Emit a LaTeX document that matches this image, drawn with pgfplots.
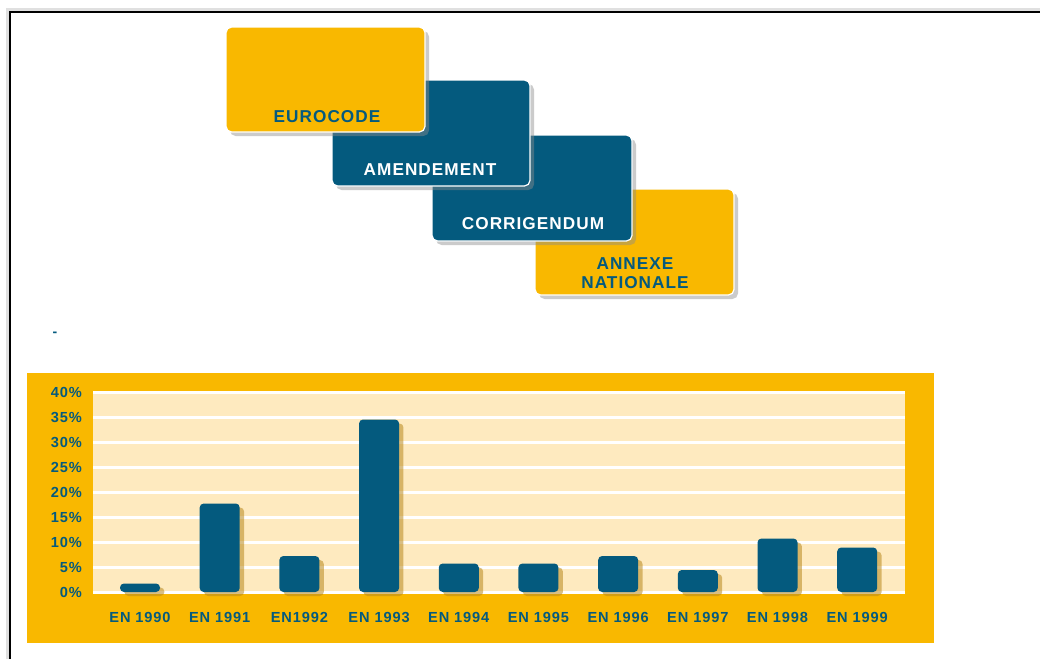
\documentclass[border=0pt]{standalone}
\usepackage{pgfplots}
\pgfplotsset{compat=1.18}
\usepackage{fontspec}
\setmainfont{Liberation Sans}
\newfontfamily\lblfont[LetterSpace=6]{Liberation Sans}
\definecolor{ecyellow}{HTML}{F9B800}
\definecolor{ecblue}{HTML}{045A7E}
\definecolor{eccream}{HTML}{FEEABF}
\definecolor{ecshadow}{HTML}{B8891E}
\begin{document}
\begin{tikzpicture}
\useasboundingbox[fill=white] (0,0) rectangle (520pt,-329.5pt);
% page frame
\draw[black!12, line width=2.5pt] (4pt,-329.5pt) -- (4pt,-5pt) -- (520pt,-5pt);
\draw[black, line width=1.1pt] (5pt,-329.5pt) -- (5pt,-6pt) -- (520pt,-6pt);
% diagram boxes (drawn back to front)
\begin{scope}[rounded corners=2.8pt]
\fill[black!45, opacity=0.45] (269.5pt,-96.5pt) rectangle (369pt,-149.5pt);
\filldraw[fill=ecyellow, draw=white, line width=0.6pt] (267.5pt,-94.5pt) rectangle (367pt,-147.5pt);
\fill[black!45, opacity=0.45] (218pt,-69.5pt) rectangle (318pt,-122.5pt);
\filldraw[fill=ecblue, draw=white, line width=0.6pt] (216pt,-67.5pt) rectangle (316pt,-120.5pt);
\fill[black!45, opacity=0.45] (168pt,-42pt) rectangle (267pt,-95pt);
\filldraw[fill=ecblue, draw=white, line width=0.6pt] (166pt,-40pt) rectangle (265pt,-93pt);
\fill[black!45, opacity=0.45] (115pt,-15.5pt) rectangle (214.5pt,-68pt);
\filldraw[fill=ecyellow, draw=white, line width=0.6pt] (113pt,-13.5pt) rectangle (212.5pt,-66pt);
\end{scope}
\node[font=\lblfont\bfseries\fontsize{8.6}{9}\selectfont, text=ecblue] at (163.5pt,-58.5pt) {EUROCODE};
\node[font=\lblfont\bfseries\fontsize{8.6}{9}\selectfont, text=white] at (215pt,-85pt) {AMENDEMENT};
\node[font=\lblfont\bfseries\fontsize{8.6}{9}\selectfont, text=white] at (266.5pt,-112pt) {CORRIGENDUM};
\node[font=\lblfont\bfseries\fontsize{8.6}{9}\selectfont, text=ecblue, align=center, inner sep=0pt] at (317.5pt,-136.5pt) {ANNEXE\\[0.3pt]NATIONALE};
\node[font=\bfseries\fontsize{7}{8}\selectfont, text=ecblue] at (27.5pt,-167pt) {-};
% yellow panel
\fill[ecyellow] (13.5pt,-186.5pt) rectangle (467pt,-321.5pt);
\begin{axis}[
  at={(46.5pt,-296pt)}, anchor=south west,
  scale only axis, width=406pt, height=100.5pt,
  xmin=-0.59, xmax=9.6, ymin=0, ymax=40.2,
  axis background/.style={fill=eccream},
  axis line style={draw=none},
  major tick length=0pt,
  ytick={0,5,...,40},
  ymajorgrids, grid style={white, line width=1.5pt},
  xtick={0,...,9},
  xticklabels={EN 1990,EN 1991,EN1992,EN 1993,EN 1994,EN 1995,EN 1996,EN 1997,EN 1998,EN 1999},
  yticklabel={\pgfmathprintnumber{\tick}\%},
  /pgf/number format/assume math mode=true,
  ticklabel style={font=\lblfont\bfseries\fontsize{7.3}{8}\selectfont, text=ecblue},
  yticklabel style={anchor=east, xshift=-2pt},
  xticklabel style={yshift=-6.5pt},
  clip=false,
]
\addplot[ybar, bar width=20pt, bar shift=2.2pt, yshift=-2pt, draw=none, fill=ecshadow, fill opacity=0.55, rounded corners=2pt]
  coordinates {(0,1.7) (1,17.7) (2,7.2) (3,34.5) (4,5.7) (5,5.7) (6,7.2) (7,4.4) (8,10.7) (9,8.9)};
\addplot[ybar, bar width=20pt, bar shift=0pt, draw=none, fill=ecblue, rounded corners=2pt]
  coordinates {(0,1.7) (1,17.7) (2,7.2) (3,34.5) (4,5.7) (5,5.7) (6,7.2) (7,4.4) (8,10.7) (9,8.9)};
\end{axis}
\end{tikzpicture}
\end{document}
